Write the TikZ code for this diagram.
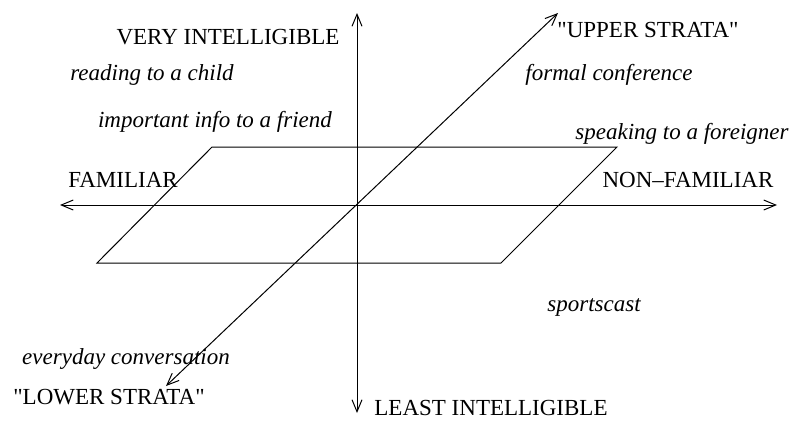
\documentclass[tikz,border=0pt]{standalone}
\usepackage{fontspec}
\setmainfont{Liberation Serif}
\usetikzlibrary{arrows.meta}

\begin{document}
\begin{tikzpicture}[x=0.5pt, y=-0.5pt, line width=0.5pt,
    every node/.style={font=\fontsize{11.5}{14}\selectfont, inner sep=0pt, anchor=base},
    axis/.style={{Straight Barb[length=6pt,width=5pt]}-{Straight Barb[length=6pt,width=5pt]}},
    case/.style={font=\fontsize{11.5}{14}\selectfont\itshape}]
  \useasboundingbox (0,0) rectangle (793,424);

  % axes
  \coordinate (top) at (357,13);
  \coordinate (bottom) at (357,413);
  \coordinate (left) at (60,205);
  \coordinate (right) at (777,205);
  \coordinate (upper) at (558,13);
  \coordinate (lower) at (166,386);
  \draw[axis] (bottom) -- (top);
  \draw[axis] (left) -- (right);
  \draw[axis] (lower) -- (upper);

  % plane
  \draw (212,147) -- (617,147) -- (501,263) -- (97,263) -- cycle;

  % axis labels
  \node (veryint) at (228,44) {VERY INTELLIGIBLE};
  \node (leastint) at (491,415) {LEAST INTELLIGIBLE};
  \node (familiar) at (123,187) {FAMILIAR};
  \node (nonfamiliar) at (688,187) {NON--FAMILIAR};
  \node (upperstrata) at (648,37) {\textquotedbl UPPER STRATA\textquotedbl};
  \node (lowerstrata) at (109,404) {\textquotedbl LOWER STRATA\textquotedbl};

  % situations
  \node[case] (child) at (152,80) {reading to a child};
  \node[case] (friend) at (215,127) {important info to a friend};
  \node[case] (conference) at (609,80) {formal conference};
  \node[case] (foreigner) at (682,139) {speaking to a foreigner};
  \node[case] (sportscast) at (594,311) {sportscast};
  \node[case] (everyday) at (126,364) {everyday conversation};
\end{tikzpicture}
\end{document}
